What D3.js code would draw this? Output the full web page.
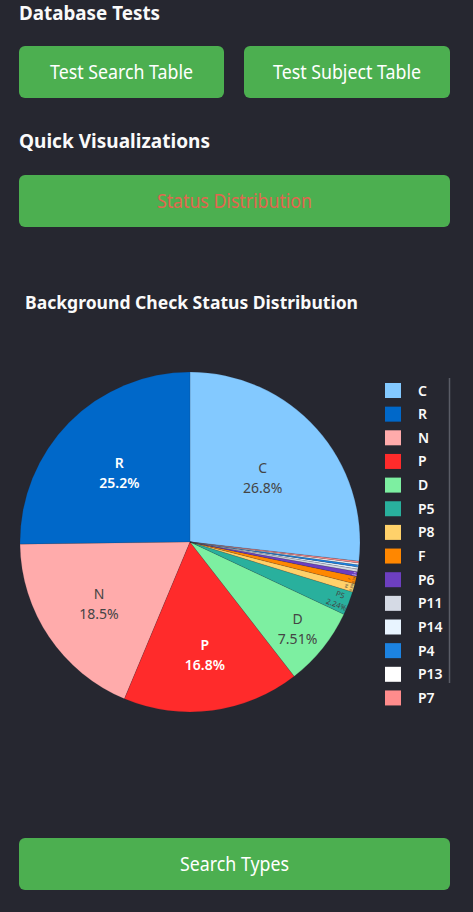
<!DOCTYPE html>
<html><head><meta charset="utf-8">
<script src="https://cdn.jsdelivr.net/npm/d3@7"></script>
<style>
html,body{margin:0;padding:0;background:#262730;overflow:hidden}
svg{display:block}
</style></head><body>
<svg id="c" width="473" height="912"></svg>
<script>
// ---- data ----
const categories = ["C","R","N","P","D","P5","P8","F","P6","P11","P14","P4","P13","P7"];
const percentValues = [26.8,25.2,18.5,16.8,7.51,2.24,0.8,0.7,0.45,0.25,0.2,0.22,0.15,0.18];
const sliceColors = ["#83C9FF","#0068C9","#FFABAB","#FF2B2B","#7DEFA1","#29B09D","#FFD16A","#FF8700","#6D3FC0","#D5DAE5","#E8F4FF","#1C83E1","#FFFFFF","#FF8C8C"];
const headingLabels = ["Database Tests","Quick Visualizations"];
const buttonLabels = ["Test Search Table","Test Subject Table","Status Distribution","Search Types"];
const chartTitle = "Background Check Status Distribution";

// ---- setup ----
const svg = d3.select("#c");
const FONT = '"Source Sans Pro","Noto Sans","Open Sans",sans-serif';
const BG = "#262730", GREEN = "#4CAF50";

function fit(sel, w){ sel.attr("textLength", w).attr("lengthAdjust","spacingAndGlyphs"); return sel; }

// headings
const headings = [
  {t:headingLabels[0], x:19, y:20, w:141},
  {t:headingLabels[1], x:19, y:148, w:191}
];
headings.forEach(h=>{
  fit(svg.append("text").attr("x",h.x).attr("y",h.y).attr("fill","#fafafa")
    .attr("font-family",FONT).attr("font-weight",700).attr("font-size",20).text(h.t), h.w);
});

// buttons
const buttons = [
  {t:buttonLabels[0], x:19, y:46, w:205, h:52, tw:143, color:"#ffffff"},
  {t:buttonLabels[1], x:244, y:46, w:206, h:52, tw:148, color:"#ffffff"},
  {t:buttonLabels[2], x:19, y:175, w:431, h:52, tw:155, color:"#e2664f"},
  {t:buttonLabels[3], x:19, y:838, w:431, h:52, tw:109, color:"#ffffff"}
];
buttons.forEach(b=>{
  svg.append("rect").attr("x",b.x).attr("y",b.y).attr("width",b.w).attr("height",b.h)
    .attr("rx",6).attr("fill",GREEN);
  fit(svg.append("text").attr("x",b.x+b.w/2).attr("y",b.y+b.h/2+7).attr("text-anchor","middle")
    .attr("fill",b.color).attr("font-family",FONT).attr("font-size",19).text(b.t), b.tw);
});

// chart title
fit(svg.append("text").attr("x",25).attr("y",309).attr("fill","#fafafa")
  .attr("font-family",FONT).attr("font-weight",700).attr("font-size",17).text(chartTitle), 333);

// ---- pie ----
const cx = 190, cy = 542, R = 170;
const data = categories.map((c,i)=>({c, v:percentValues[i], color:sliceColors[i]}));
const total = d3.sum(data, d=>d.v);
const a0 = 2*Math.PI*data[0].v/total;
const pie = d3.pie().sort(null).value(d=>d.v).startAngle(a0).endAngle(a0 - 2*Math.PI);
const arcs = pie(data);
const arcGen = d3.arc().innerRadius(0).outerRadius(R);
const pg = svg.append("g").attr("transform",`translate(${cx},${cy})`);
pg.selectAll("path").data(arcs).join("path")
  .attr("d", arcGen).attr("fill", d=>d.data.color)
  .attr("stroke", "rgba(38,39,48,0.35)").attr("stroke-width",0.4);

const fmt = d3.format(".3~r");
function isLight(hex){
  const c = d3.rgb(hex);
  return (c.r*299 + c.g*587 + c.b*114)/1000 >= 128;
}
function norm180(deg){ let r = ((deg % 180) + 180) % 180; if(r > 90) r -= 180; return r; }
function maxHalf(a, half, r){
  const q = a + 1/(2*Math.tan(half));
  return r*Math.min(1/(Math.sqrt(q*q+0.5)+q), 1/(Math.sqrt(a*a+0.5)+a));
}

const lg = pg.append("g");
arcs.forEach(d=>{
  const g = lg.append("g");
  const light = isLight(d.data.color);
  const txt = g.append("text").attr("text-anchor","middle").attr("font-family",FONT)
    .attr("font-size",14).attr("font-weight", light ? 400 : 600)
    .attr("fill", light ? "#444444" : "#ffffff");
  txt.append("tspan").attr("x",0).attr("y",-5).text(d.data.c);
  txt.append("tspan").attr("x",0).attr("y",15).text(fmt(100*d.data.v/total) + "%");
  const bb = txt.node().getBBox();
  const w = bb.width, h = bb.height;
  txt.attr("transform", `translate(${-(bb.x + w/2)},${-(bb.y + h/2)})`);
  const mid = (d.startAngle + d.endAngle)/2;
  const half = Math.abs(d.endAngle - d.startAngle)/2;
  const rIns = Math.min(1/(1 + 1/Math.sin(half)), 0.5);
  const diam = Math.sqrt(w*w + h*h);
  let best = {scale: rIns*R*2/diam, rc: 1 - rIns, rot: 0};
  if(best.scale < 1){
    const midDeg = mid*180/Math.PI;
    let a = w/h, s = maxHalf(a, half, R);
    const rad = {scale: s*2/h, rc: Math.cos(s/R) - a*s/R, rot: norm180(midDeg - 90)};
    a = h/w; s = maxHalf(a, half, R);
    const tan = {scale: s*2/w, rc: Math.cos(s/R) - a*s/R, rot: norm180(midDeg)};
    [rad, tan].forEach(t=>{ if(t.scale > best.scale) best = t; });
  }
  const sc = Math.min(1, best.scale);
  const dist = best.rc*R;
  const x = dist*Math.sin(mid), y = -dist*Math.cos(mid);
  g.attr("transform", `translate(${x},${y}) rotate(${best.rot}) scale(${sc})`);
});

// ---- legend ----
const legX = 385, legY0 = 390.5, legStep = 23.65;
const leg = svg.append("g");
data.forEach((d,i)=>{
  const y = legY0 + i*legStep;
  leg.append("rect").attr("x",legX).attr("y",y-7.5).attr("width",16).attr("height",15)
    .attr("fill",d.color);
  leg.append("text").attr("x",418).attr("y",y+5).attr("fill","#fafafa")
    .attr("font-family",FONT).attr("font-weight",600).attr("font-size",14).text(d.c);
});
svg.append("line").attr("x1",449.5).attr("x2",449.5).attr("y1",378).attr("y2",683)
  .attr("stroke","#5a5c66").attr("stroke-width",1.5);
</script>
</body></html>
